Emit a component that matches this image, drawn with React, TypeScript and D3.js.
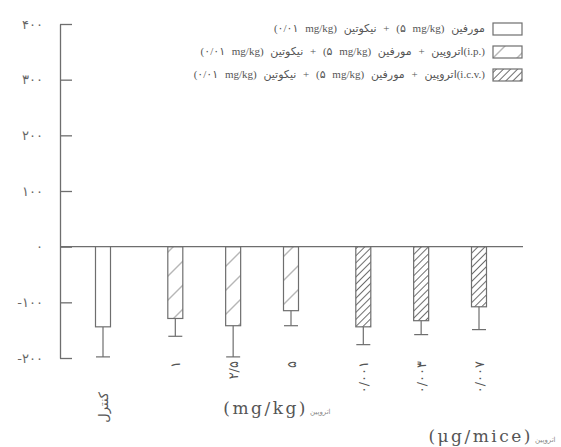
import React, { useEffect, useRef } from 'react'
import * as d3 from 'd3'

// treatment groups: control, atropine i.p. (mg/kg), atropine i.c.v. (µg/mice)
const categories = ['کنترل', '۱', '۲/۵', '۵', '۰/۰۰۱', '۰/۰۰۳', '۰/۰۰۷']
const groups = [0, 1, 1, 1, 2, 2, 2]
const means = [-144, -129, -142, -115, -144, -133, -108]
const errors = [54, 32, 56, 27, 32, 25, 41]
const yTicks = [-200, -100, 0, 100, 200, 300, 400]

// LRI ... PDI keep the parenthesised latin bits in reading order
const iso = (s: string) => '\u2066' + s + '\u2069'
const legendLabels = [
  `مورفین ${iso('(۵ mg/kg)')} + نیکوتین ${iso('(۰/۰۱ mg/kg)')}`,
  `${iso('(i.p.)')}اتروپین + مورفین ${iso('(۵ mg/kg)')} + نیکوتین ${iso('(۰/۰۱ mg/kg)')}`,
  `${iso('(i.c.v.)')}اتروپین + مورفین ${iso('(۵ mg/kg)')} + نیکوتین ${iso('(۰/۰۱ mg/kg)')}`,
]

const faDigits = (s: string) => s.replace(/[0-9]/g, d => '۰۱۲۳۴۵۶۷۸۹'[+d])

const ink = '#6e6e6e'
const textInk = '#555'

function Chart() {
  const ref = useRef<SVGSVGElement>(null)

  useEffect(() => {
    const svg = d3.select(ref.current)
    svg.selectAll('*').remove()

    const defs = svg.append('defs')
    // sparse hatch for i.p. bars
    defs.append('pattern')
      .attr('id', 'sparse')
      .attr('patternUnits', 'userSpaceOnUse')
      .attr('width', 24).attr('height', 24)
      .attr('patternTransform', 'skewY(-45)')
      .append('line')
      .attr('x1', 0).attr('y1', 12).attr('x2', 24).attr('y2', 12)
      .attr('stroke', ink).attr('stroke-width', 1.1)
    // dense hatch for i.c.v. bars
    defs.append('pattern')
      .attr('id', 'dense')
      .attr('patternUnits', 'userSpaceOnUse')
      .attr('width', 5).attr('height', 5)
      .attr('patternTransform', 'rotate(-45)')
      .append('line')
      .attr('x1', 0).attr('y1', 2.5).attr('x2', 5).attr('y2', 2.5)
      .attr('stroke', ink).attr('stroke-width', 1)

    const fills = ['#fff', 'url(#sparse)', 'url(#dense)']

    const y = d3.scaleLinear().domain([-200, 400]).range([358, 24])
    const slot = d3.scaleLinear().domain([0, 6.5]).range([103, 479])
    const xc = (i: number) => slot(i + groups[i] * 0.25)
    const barW = 15

    // y axis, ticks pointing inward
    const axis = svg.append('g')
      .attr('transform', 'translate(60,0)')
      .call(d3.axisLeft(y)
        .tickValues(yTicks)
        .tickSizeInner(-12)
        .tickSizeOuter(0)
        .tickPadding(17)
        .tickFormat(d => faDigits(String(d))))
    axis.selectAll('path, line').attr('stroke', ink).attr('stroke-width', 1.3)
    axis.selectAll('text')
      .attr('fill', '#666')
      .attr('font-family', 'DejaVu Sans')
      .attr('font-size', 13)
      .attr('letter-spacing', 3.5)

    // zero baseline
    svg.append('line')
      .attr('x1', 60).attr('x2', 523)
      .attr('y1', y(0)).attr('y2', y(0))
      .attr('stroke', ink).attr('stroke-width', 1.3)

    const bars = svg.append('g').selectAll('g')
      .data(means)
      .enter().append('g')

    // error bars
    bars.append('line')
      .attr('x1', (d, i) => xc(i)).attr('x2', (d, i) => xc(i))
      .attr('y1', d => y(d)).attr('y2', (d, i) => y(d - errors[i]))
      .attr('stroke', ink).attr('stroke-width', 1.2)
    bars.append('line')
      .attr('x1', (d, i) => xc(i) - 7).attr('x2', (d, i) => xc(i) + 7)
      .attr('y1', (d, i) => y(d - errors[i])).attr('y2', (d, i) => y(d - errors[i]))
      .attr('stroke', ink).attr('stroke-width', 1.2)

    bars.append('rect')
      .attr('x', (d, i) => xc(i) - barW / 2)
      .attr('y', y(0))
      .attr('width', barW)
      .attr('height', d => y(d) - y(0))
      .attr('fill', (d, i) => fills[groups[i]])
      .attr('stroke', ink).attr('stroke-width', 1.2)

    // category labels, rotated
    svg.append('g').selectAll('text')
      .data(categories)
      .enter().append('text')
      .attr('transform', (d, i) => `translate(${xc(i)},${i === 0 ? 392 : 361}) rotate(-90)`)
      .attr('text-anchor', 'end')
      .attr('dy', '0.35em')
      .attr('font-family', 'DejaVu Sans')
      .attr('font-size', 13)
      .attr('letter-spacing', 1.5)
      .attr('fill', textInk)
      .text(d => d)

    // unit captions
    const captions = [
      { latin: '(mg/kg)', x: 308, yy: 414 },
      { latin: '(μg/mice)', x: 533, yy: 442 },
    ]
    captions.forEach(c => {
      svg.append('text')
        .attr('x', c.x).attr('y', c.yy)
        .attr('text-anchor', 'end')
        .attr('font-family', 'DejaVu Serif')
        .attr('font-size', 17)
        .attr('letter-spacing', 2.5)
        .attr('fill', textInk)
        .text(c.latin)
      svg.append('text')
        .attr('x', c.x + 2).attr('y', c.yy)
        .attr('text-anchor', 'start')
        .attr('font-family', 'DejaVu Sans')
        .attr('font-size', 7)
        .attr('fill', '#888')
        .text('اتروپین')
    })

    // legend
    const legend = svg.append('g').selectAll('g')
      .data(legendLabels)
      .enter().append('g')
      .attr('transform', (d, i) => `translate(493,${23 + i * 23})`)
    legend.append('rect')
      .attr('width', 29).attr('height', 12)
      .attr('fill', (d, i) => fills[i])
      .attr('stroke', ink).attr('stroke-width', 1.2)
    legend.append('text')
      .attr('x', -8).attr('y', 9)
      .attr('direction', 'rtl')
      .attr('text-anchor', 'start')
      .attr('font-family', 'Liberation Serif, DejaVu Sans')
      .attr('font-size', 11)
      .attr('word-spacing', 4)
      .attr('fill', textInk)
      .text(d => d)
  }, [])

  return <svg ref={ref} width={561} height={447} style={{ position: 'absolute', left: 0, top: 0, background: '#fff' }} />
}

export default function App() {
  return <Chart />
}
